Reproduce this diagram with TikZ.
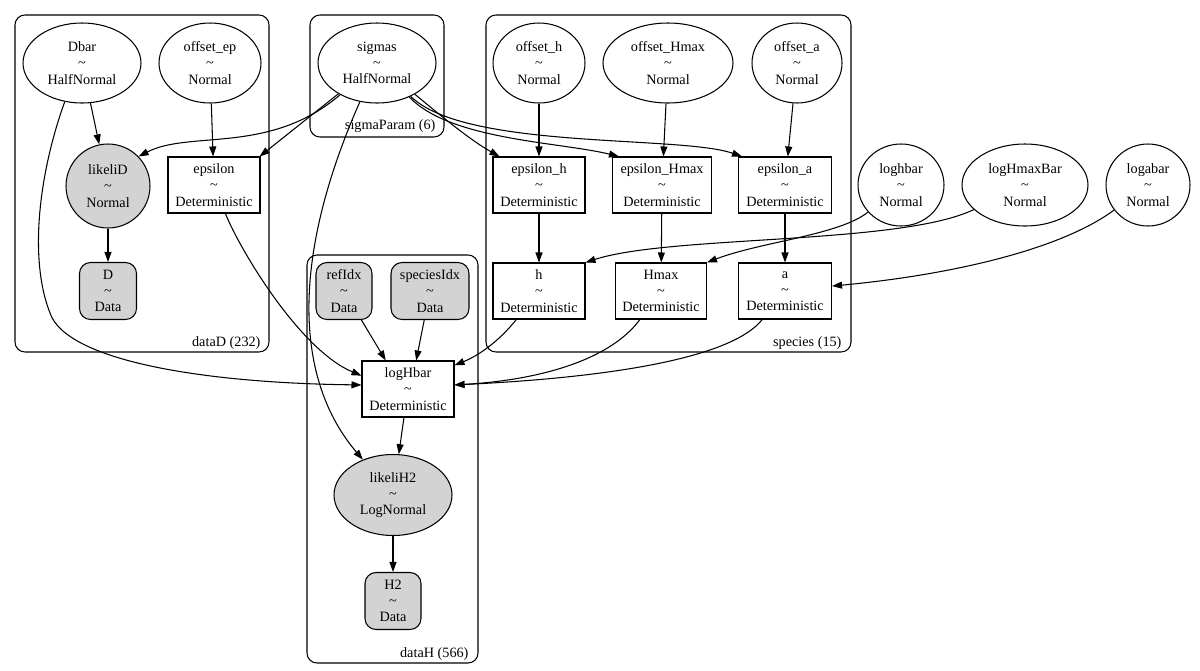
\documentclass[tikz,border=0pt]{standalone}
\usepackage{fontspec}
\setmainfont{Liberation Serif}
\usetikzlibrary{shapes.geometric,arrows.meta}
\definecolor{obsfill}{HTML}{D3D3D3}

\begin{document}
\begin{tikzpicture}[x=0.02cm,y=0.02cm,
  font=\fontsize{8.1}{9.2}\selectfont,
  every node/.style={align=center,line width=0.6pt},
  rv/.style={ellipse,draw,inner sep=0pt,minimum height=1.6cm},
  det/.style={rectangle,draw,inner sep=0pt,minimum height=1.12cm},
  dat/.style={rectangle,draw,rounded corners=2.2mm,fill=obsfill,inner sep=0pt,minimum height=1.14cm},
  plate/.style={draw,rounded corners=2mm,line width=0.6pt},
  platelabel/.style={anchor=base east,inner sep=0pt},
  edge/.style={-{Triangle[length=2mm,width=1.4mm]},line width=0.6pt}]
  \useasboundingbox (0,0) rectangle (1200,-670);

  \draw[plate] (15,-15) rectangle (269,-352);
  \node[platelabel] (dataDlbl) at (261,-346) {dataD (232)};
  \draw[plate] (310,-15) rectangle (444,-137);
  \node[platelabel] (sigmaParamlbl) at (436,-129) {sigmaParam (6)};
  \draw[plate] (486,-15) rectangle (851,-352);
  \node[platelabel] (specieslbl) at (842,-346) {species (15)};
  \draw[plate] (307,-255) rectangle (478,-663);
  \node[platelabel] (dataHlbl) at (469,-657) {dataH (566)};

  \node[rv,minimum width=2.36cm] (Dbar) at (82,-63) {Dbar\\\textasciitilde\\HalfNormal};
  \node[rv,minimum width=2.04cm] (offsetEp) at (210,-63) {offset\_ep\\\textasciitilde\\Normal};
  \node[rv,minimum width=2.36cm] (sigmas) at (377,-63) {sigmas\\\textasciitilde\\HalfNormal};
  \node[rv,minimum width=1.84cm] (offsetH) at (539,-63) {offset\_h\\\textasciitilde\\Normal};
  \node[rv,minimum width=2.6cm] (offsetHmax) at (668,-63) {offset\_Hmax\\\textasciitilde\\Normal};
  \node[rv,minimum width=1.8cm] (offsetA) at (797,-63) {offset\_a\\\textasciitilde\\Normal};

  \node[circle,draw,fill=obsfill,inner sep=0pt,minimum size=1.68cm] (likeliD) at (108,-186) {likeliD\\\textasciitilde\\Normal};
  \node[det,minimum width=1.84cm] (epsilon) at (214,-185) {epsilon\\\textasciitilde\\Deterministic};
  \node[det,minimum width=1.84cm] (epsH) at (539,-185) {epsilon\_h\\\textasciitilde\\Deterministic};
  \node[det,minimum width=1.98cm] (epsHmax) at (662,-185) {epsilon\_Hmax\\\textasciitilde\\Deterministic};
  \node[det,minimum width=1.86cm] (epsA) at (785,-185) {epsilon\_a\\\textasciitilde\\Deterministic};
  \node[rv,minimum width=1.72cm,minimum height=1.64cm] (loghbar) at (901,-185) {loghbar\\\textasciitilde\\Normal};
  \node[rv,minimum width=2.52cm,minimum height=1.64cm] (logHmaxBar) at (1025,-185) {logHmaxBar\\\textasciitilde\\Normal};
  \node[rv,minimum width=1.68cm,minimum height=1.64cm] (logabar) at (1148,-185) {logabar\\\textasciitilde\\Normal};

  \node[dat,minimum width=1.14cm] (D) at (108,-291) {D\\\textasciitilde\\Data};
  \node[dat,minimum width=1.12cm] (refIdx) at (344,-291) {refIdx\\\textasciitilde\\Data};
  \node[dat,minimum width=1.56cm] (speciesIdx) at (430,-291) {speciesIdx\\\textasciitilde\\Data};
  \node[det,minimum width=1.84cm] (h) at (539,-291) {h\\\textasciitilde\\Deterministic};
  \node[det,minimum width=1.82cm] (Hmax) at (661,-291) {Hmax\\\textasciitilde\\Deterministic};
  \node[det,minimum width=1.86cm] (a) at (785,-291) {a\\\textasciitilde\\Deterministic};

  \node[det,minimum width=1.84cm] (logHbar) at (408,-389) {logHbar\\\textasciitilde\\Deterministic};
  \node[rv,fill=obsfill,minimum width=2.36cm,minimum height=1.62cm] (likeliH2) at (393,-495) {likeliH2\\\textasciitilde\\LogNormal};
  \node[dat,minimum width=1.12cm] (H2) at (393,-601) {H2\\\textasciitilde\\Data};

  \draw[edge] (Dbar) -- (likeliD);
  \draw[edge] (offsetEp) -- (epsilon);
  \draw[edge] (likeliD) -- (D);
  \draw[edge] (offsetH) -- (epsH);
  \draw[edge] (offsetHmax) -- (epsHmax);
  \draw[edge] (offsetA) -- (epsA);
  \draw[edge] (epsH) -- (h);
  \draw[edge] (epsHmax) -- (Hmax);
  \draw[edge] (epsA) -- (a);
  \draw[edge] (refIdx) -- (logHbar.128);
  \draw[edge] (speciesIdx) -- (logHbar.74);
  \draw[edge] (logHbar) -- (likeliH2);
  \draw[edge] (likeliH2) -- (H2);

  \draw[edge] (sigmas) .. controls (270,-155) and (190,-130) .. (likeliD.44);
  \draw[edge] (sigmas) -- (epsilon.32);
  \draw[edge] (sigmas) .. controls (290,-260) and (295,-380) .. (likeliH2);
  \draw[edge] (sigmas) .. controls (440,-115) and (470,-140) .. ([xshift=0.14cm]epsH.north west);
  \draw[edge] (sigmas) .. controls (450,-140) and (560,-142) .. ([xshift=0.14cm]epsHmax.north west);
  \draw[edge] (sigmas) .. controls (465,-150) and (680,-135) .. ([xshift=0.08cm]epsA.north west);

  \draw[edge] (Dbar.246) .. controls (40,-170) and (28,-257) .. (50,-313)
    .. controls (66,-360) and (200,-383) .. (logHbar.175);
  \draw[edge] (epsilon) .. controls (240,-250) and (300,-350) .. (logHbar.164);

  \draw[edge] (loghbar) .. controls (840,-235) and (760,-242) .. (Hmax.north east);
  \draw[edge] (logHmaxBar) .. controls (900,-245) and (670,-235) .. (h.north east);
  \draw[edge] (logabar) .. controls (1060,-250) and (950,-275) .. (a.6);

  \draw[edge] (h) .. controls (500,-340) and (480,-355) .. (logHbar.27);
  \draw[edge] (Hmax) .. controls (610,-360) and (540,-380) .. (logHbar.5);
  \draw[edge] (a) .. controls (730,-360) and (600,-378) .. (logHbar.5);
\end{tikzpicture}
\end{document}
